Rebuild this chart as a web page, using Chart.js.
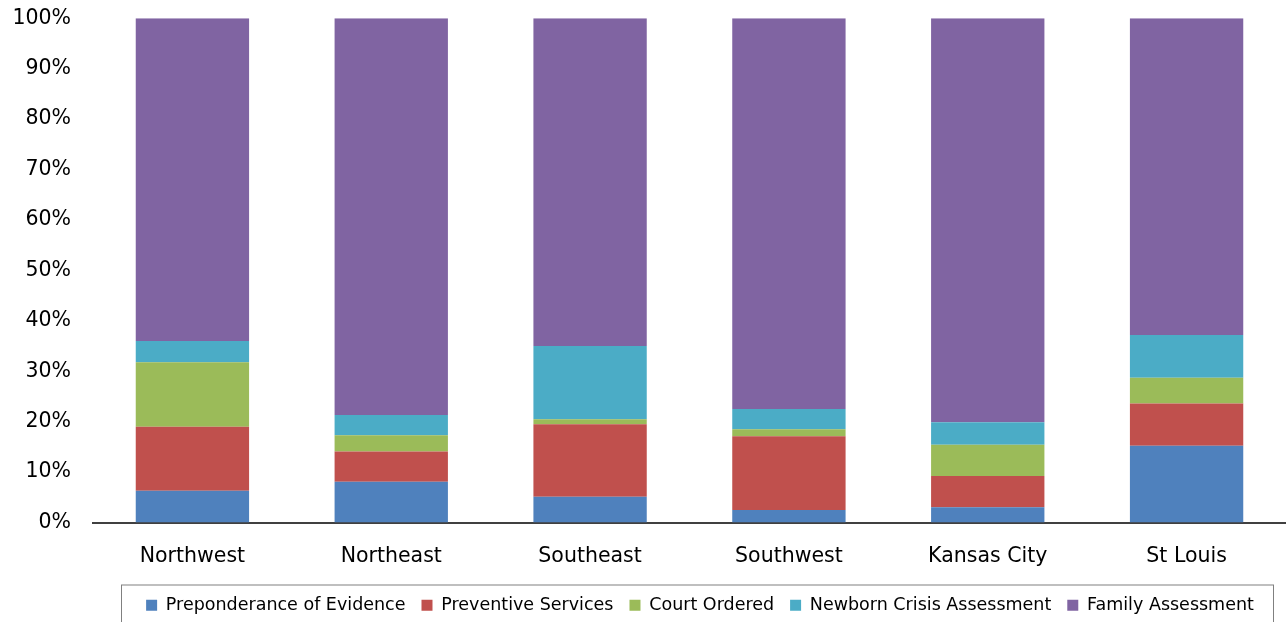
<!DOCTYPE html>
<html>
<head>
<meta charset="utf-8">
<script src="https://cdn.jsdelivr.net/npm/chart.js@4"></script>
<style>
  html, body { margin: 0; padding: 0; background: #fff; overflow: hidden; }
  #wrap { width: 1286px; height: 622px; overflow: hidden; }
  #myChart { display: block; margin-top: -16px; }
</style>
</head>
<body>
<div id="wrap"><canvas id="myChart" width="1286" height="640"></canvas></div>
<script>
const regions = ['Northwest', 'Northeast', 'Southeast', 'Southwest', 'Kansas City', 'St Louis'];
const preponderance = [6.3, 8.1, 5.1, 2.5, 3.0, 15.2];
const preventive = [12.7, 6.0, 14.4, 14.6, 6.2, 8.4];
const courtOrdered = [12.8, 3.2, 1.0, 1.4, 6.2, 5.1];
const newborn = [4.2, 4.0, 14.5, 4.0, 4.5, 8.5];
const familyAssessment = [64.0, 78.7, 65.0, 77.5, 80.1, 62.8];

const fontFamily = "'DejaVu Sans', Verdana, sans-serif";

// legend sits right of centre in the original, with a grey box round it
const legendBox = {
    id: 'legendBox',
    afterLayout(chart) {
        chart.legend.left += 57;
        chart.legend.right += 57;
    },
    afterDraw(chart) {
        const lg = chart.legend;
        const ctx = chart.ctx;
        ctx.save();
        ctx.strokeStyle = '#808080';
        ctx.lineWidth = 1;
        ctx.strokeRect(121.5, lg.top + 4.5, 1152, chart.height - lg.top + 5);
        ctx.restore();
    }
};

const ctx = document.getElementById('myChart').getContext('2d');
const myChart = new Chart(ctx, {
    type: 'bar',
    data: {
        labels: regions,
        datasets: [
            { label: 'Preponderance of Evidence', data: preponderance, backgroundColor: '#4F81BD' },
            { label: 'Preventive Services', data: preventive, backgroundColor: '#C0504D' },
            { label: 'Court Ordered', data: courtOrdered, backgroundColor: '#9BBB59' },
            { label: 'Newborn Crisis Assessment', data: newborn, backgroundColor: '#4BACC6' },
            { label: 'Family Assessment', data: familyAssessment, backgroundColor: '#8064A2' }
        ]
    },
    options: {
        responsive: false,
        animation: false,
        layout: { padding: { top: 0, right: 0, left: 0, bottom: 0 } },
        datasets: { bar: { categoryPercentage: 1.0, barPercentage: 0.57 } },
        scales: {
            x: {
                stacked: true,
                grid: { display: false, drawTicks: false },
                border: { display: true, color: '#404040', width: 2 },
                ticks: { color: '#000', font: { family: fontFamily, size: 20.5 }, padding: 22 },
                afterFit: function(axis) { axis.height = 58; }
            },
            y: {
                stacked: true,
                min: 0,
                max: 100,
                grid: { display: false, drawTicks: false },
                border: { display: false },
                ticks: {
                    stepSize: 10,
                    color: '#000',
                    font: { family: fontFamily, size: 20.5 },
                    padding: 22,
                    callback: function(v) { return v + '%'; }
                },
                afterFit: function(axis) { axis.width = 93; }
            }
        },
        plugins: {
            legend: {
                position: 'bottom',
                labels: {
                    color: '#000',
                    font: { family: fontFamily, size: 17.5 },
                    boxWidth: 11,
                    boxHeight: 11,
                    padding: 16
                }
            },
            tooltip: { enabled: false }
        }
    },
    plugins: [legendBox]
});
</script>
</body>
</html>
